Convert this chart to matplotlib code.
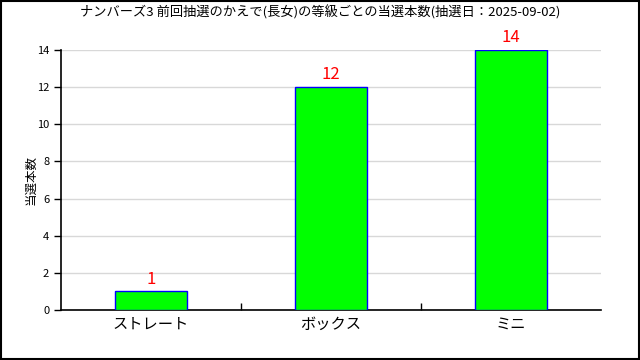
import matplotlib
matplotlib.use('agg')
import matplotlib.pyplot as plt
from matplotlib.patches import Rectangle

plt.rcParams['font.family'] = ['Noto Sans CJK JP', 'DejaVu Sans']

categories = ['ストレート', 'ボックス', 'ミニ']
counts = [1, 12, 14]
title = 'ナンバーズ3 前回抽選のかえで(長女)の等級ごとの当選本数(抽選日：2025-09-02)'

fig = plt.figure(figsize=(6.4, 3.6), dpi=100)
ax = fig.add_axes([61/640, 1 - 310/360, 540/640, 260/360])

x = range(len(categories))
ax.bar(x, counts, width=0.4, color='#00ff00', edgecolor='blue', linewidth=1, zorder=3)
for i, v in zip(x, counts):
    ax.text(i, v + 0.2, str(v), color='red', ha='center', va='bottom', fontsize=12)

ax.set_xlim(-0.5, 2.5)
ax.set_ylim(0, 14)
ax.set_yticks(range(0, 15, 2))
ax.tick_params(axis='y', direction='out', length=5, width=1, labelsize=8)
ax.set_xticks(list(x))
ax.set_xticklabels(categories, fontsize=11)
ax.tick_params(axis='x', length=0, pad=4)
ax.set_xticks([0.5, 1.5], minor=True)
ax.tick_params(axis='x', which='minor', direction='in', length=5, width=1)
ax.grid(axis='y', color='#d8d8d8', linewidth=1, zorder=0)
for side in ['top', 'right']:
    ax.spines[side].set_visible(False)
ax.spines['left'].set_linewidth(1.2)
ax.spines['bottom'].set_linewidth(1.2)

# y axis label sits close to the tick numbers
fig.text(31/640, 0.5, '当選本数', rotation=90, ha='center', va='center', fontsize=9)
fig.text(0.5, 1 - 12/360, title, ha='center', va='center', fontsize=9.5)
fig.patches.append(Rectangle((0.001, 0.002), 0.997, 0.996, transform=fig.transFigure,
                             fill=False, edgecolor='black', linewidth=1.5))

fig.savefig('out.png', dpi=100)
